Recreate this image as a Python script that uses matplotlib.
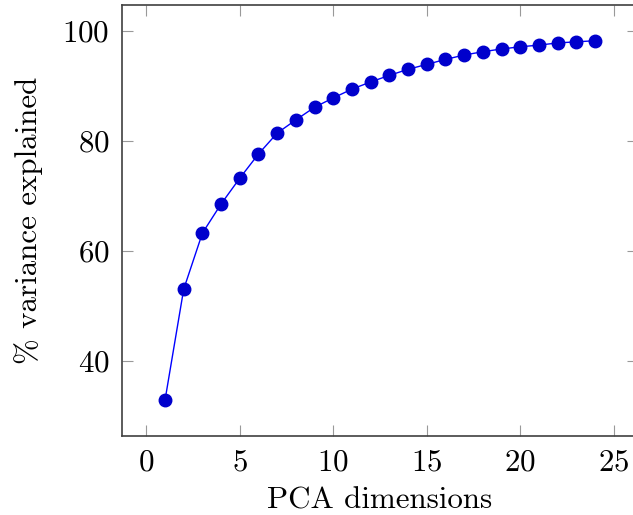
import matplotlib
matplotlib.use("Agg")
import matplotlib.pyplot as plt

# PCA cumulative explained variance
dims = list(range(1, 25))
variance = [32.8, 53.0, 63.2, 68.5, 73.2, 77.6, 81.4, 83.8, 86.1, 87.8,
            89.4, 90.7, 91.9, 93.0, 93.9, 94.8, 95.6, 96.2, 96.7, 97.1,
            97.4, 97.8, 98.0, 98.2]
xticks = [0, 5, 10, 15, 20, 25]
yticks = [40, 60, 80, 100]

plt.rcParams['font.family'] = 'cmr10'
plt.rcParams['font.size'] = 22.3
plt.rcParams['axes.formatter.use_mathtext'] = True

fig = plt.figure(figsize=(6.33, 5.15), dpi=100)
ax = fig.add_axes([122 / 633, 79 / 515, 516 / 633, 431 / 515])

ax.plot(dims, variance, color=(0, 0, 1), lw=1.0, marker='o', markersize=9,
        markerfacecolor=(0, 0, 0.8), markeredgecolor=(0, 0, 0.8))

ax.set_xlim(-1.3, 26.3)
ax.set_ylim(26.3, 104.7)
ax.set_xticks(xticks)
ax.set_yticks(yticks)
ax.tick_params(direction='in', length=8, width=0.8, color='0.6',
               top=True, right=True, pad=9)
for s in ax.spines.values():
    s.set_color('0.25')
    s.set_linewidth(1.2)

ax.set_xlabel('PCA dimensions', labelpad=7)
ax.set_ylabel('% variance explained', labelpad=14)

fig.savefig('out.png', dpi=100)
